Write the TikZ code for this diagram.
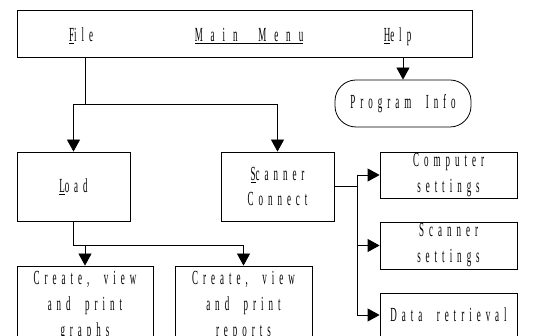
\documentclass[tikz,border=0pt]{standalone}
\usepackage{fontspec}
\setmainfont{Liberation Serif}[FakeStretch=0.45,LetterSpace=25,WordSpace=2]
\usetikzlibrary{arrows.meta}
\begin{document}
\begin{tikzpicture}[x=1pt,y=-1pt,line width=0.8pt,
  box/.style={draw,rectangle,inner sep=0pt,align=center,font=\fontsize{20}{26}\selectfont},
  arr/.style={-{Triangle[length=12pt,width=13pt]}},
  lbl/.style={anchor=base,inner sep=0pt,font=\fontsize{20}{26}\selectfont}]
\useasboundingbox (0,0) rectangle (541,336);
% main menu bar
\node[box,minimum width=455pt,minimum height=47pt] (main) at (244.5,33.5) {};
\node[lbl] (file) at (81,42) {\underline{F}ile};
\node[lbl] (mm) at (249,42) {\addfontfeatures{LetterSpace=40}\underline{Main Menu}};
\node[lbl] (help) at (397.5,42) {\underline{H}elp};
% program info
\node[box,rounded corners=21pt,minimum width=136pt,minimum height=47pt] (prog) at (403,103.5) {Program Info};
% second row
\node[box,minimum width=113pt,minimum height=69pt] (load) at (73.5,186.5) {\underline{L}oad};
\node[box,minimum width=113pt,minimum height=69pt,font=\fontsize{20}{25}\selectfont] (scan) at (277.5,186.5) {\underline{S}canner\\Connect};
% right column
\node[box,minimum width=137pt,minimum height=46pt] (comp) at (448.5,175) {Computer\\settings};
\node[box,minimum width=137pt,minimum height=47pt] (sset) at (448.5,245.5) {Scanner\\settings};
\node[box,minimum width=137pt,minimum height=44pt] (data) at (448.5,315) {Data retrieval};
% bottom row
\node[box,minimum width=136pt,minimum height=80pt,font=\fontsize{20}{26}\selectfont] (graphs) at (85,306) {Create, view\\and print\\graphs};
\node[box,minimum width=137pt,minimum height=80pt,font=\fontsize{20}{26}\selectfont] (reports) at (243.5,306) {Create, view\\and print\\reports};
% connectors
\coordinate (j1) at (85,104);
\draw (main.south -| j1) -- (j1);
\draw[arr] (j1) -| (load.north);
\draw[arr] (j1) -| (scan.north);
\draw[arr] (main.south -| prog.north) -- (prog.north);
\coordinate (bus) at (357,186.5);
\draw (scan.east) -- (bus);
\draw (comp.west -| bus) -- (data.west -| bus);
\draw[arr] (comp.west -| bus) -- (comp.west);
\draw[arr] (sset.west -| bus) -- (sset.west);
\draw[arr] (data.west -| bus) -- (data.west);
\coordinate (j2) at (73.5,245);
\draw (load.south) -- (j2) -- (j2 -| reports.north);
\draw[arr] (j2 -| graphs.north) -- (graphs.north);
\draw[arr] (j2 -| reports.north) -- (reports.north);
\end{tikzpicture}
\end{document}
